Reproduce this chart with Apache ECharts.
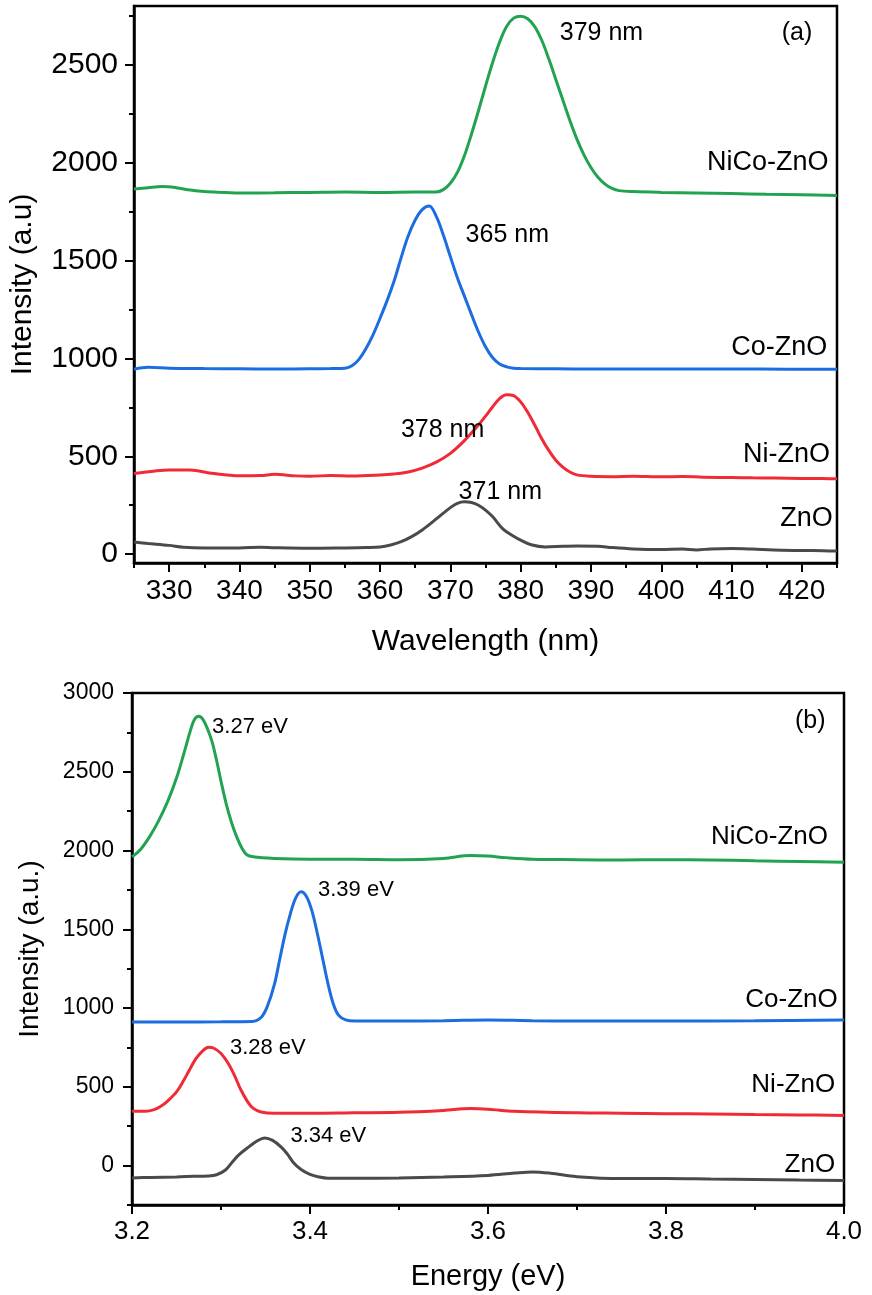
<!DOCTYPE html>
<html>
<head>
<meta charset="utf-8">
<script src="https://cdn.jsdelivr.net/npm/echarts@6/dist/echarts.min.js"></script>
<style>
html,body{margin:0;padding:0;background:#fff;}
#main{width:872px;height:1295px;}
</style>
</head>
<body>
<div id="main"></div>
<script>
// ---------- Panel (a): wavelength (nm) vs intensity ----------
const wlMajorTicks = [330, 340, 350, 360, 370, 380, 390, 400, 410, 420];
const wlMinorTicks = [325, 335, 345, 355, 365, 375, 385, 395, 405, 415, 425];
const intAMajorTicks = [0, 500, 1000, 1500, 2000, 2500];
const intAMinorTicks = [250, 750, 1250, 1750, 2250, 2750];

const znoA = [[325,62],[327,55],[330,45],[332,36],[335,32],[340,32],[343,36],[345,33],[350,30],[355,32],[358,34],[360,37],[361.5,47],[363,64],[364.5,90],[366,124],[368,180],[370,238],[371,260],[372,268],[373,264],[374,250],[375,225],[376,192],[377.5,128],[379,92],[380,72],[381.5,48],[383.5,37],[386,40],[388,42],[391,41],[393,34],[396,27],[400,24],[403,26],[405,22],[407,27],[410,29],[413,26],[416,21],[420,19],[423,18],[425,16]];
const niA = [[325,412],[328,425],[330,430],[333,430],[336,414],[340,401],[343,402],[345,408],[348,400],[350,398],[353,402],[356,400],[360,405],[362,410],[364,420],[366,440],[368,470],[370,515],[372,580],[374,660],[375,705],[376,752],[377,795],[378,815],[379,810],[380,778],[381,725],[382,660],[383,590],[384,530],[385,480],[386,445],[387,420],[388,405],[390,398],[393,396],[396,398],[400,395],[403,397],[406,393],[410,392],[413,390],[416,389],[420,387],[423,386],[425,385]];
const coA = [[325,945],[327,955],[330,950],[335,948],[340,947],[345,946],[350,947],[353,948],[355,950],[356,962],[357,995],[358,1050],[359,1120],[360,1205],[361,1295],[362,1395],[363,1515],[364,1625],[365,1707],[366,1760],[367,1778],[368,1725],[369,1630],[370,1520],[371,1412],[372,1318],[373,1225],[374,1135],[375,1060],[376,1005],[377,972],[378,957],[379,950],[380,948],[385,947],[390,946],[400,946],[410,946],[418,945],[425,945]];
const nicoA = [[325,1865],[327,1872],[329,1878],[331,1872],[333,1860],[335,1852],[338,1848],[340,1845],[345,1846],[350,1848],[355,1850],[360,1848],[365,1850],[368,1850],[369,1862],[370,1895],[371,1950],[372,2035],[373,2145],[374,2265],[375,2390],[376,2510],[377,2615],[378,2695],[379,2738],[380,2748],[381,2735],[382,2695],[383,2625],[384,2530],[385,2425],[386,2320],[387,2215],[388,2120],[389,2040],[390,1975],[391,1925],[392,1890],[393,1868],[394,1857],[396,1852],[400,1848],[405,1845],[410,1842],[415,1838],[420,1836],[425,1832]];

const annAText = ['(a)', '379 nm', '365 nm', '378 nm', '371 nm'];
const annAX    = [419.3, 391.5, 378.1, 368.9, 377.1];
const annAY    = [2662, 2662, 1630, 635, 318];
const nameAText = ['NiCo-ZnO', 'Co-ZnO', 'Ni-ZnO', 'ZnO'];
const nameAX    = [423.8, 423.6, 424.0, 424.4];
const nameAY    = [1998, 1053, 507, 180];

// ---------- Panel (b): energy (eV) vs intensity ----------
const eMajorTicks = [3.2, 3.4, 3.6, 3.8, 4.0];
const eMinorTicks = [3.3, 3.5, 3.7, 3.9];
const intBMajorTicks = [0, 500, 1000, 1500, 2000, 2500, 3000];
const intBMinorTicks = [-250, 250, 750, 1250, 1750, 2250, 2750];

const znoB = [[3.2,-78],[3.22,-75],[3.25,-72],[3.27,-68],[3.285,-66],[3.295,-58],[3.305,-28],[3.313,25],[3.32,68],[3.332,122],[3.34,155],[3.349,176],[3.358,160],[3.368,116],[3.375,70],[3.381,22],[3.39,-25],[3.4,-56],[3.41,-72],[3.42,-80],[3.45,-80],[3.5,-78],[3.55,-72],[3.6,-62],[3.63,-47],[3.65,-40],[3.67,-48],[3.7,-70],[3.75,-82],[3.8,-82],[3.85,-85],[3.9,-88],[3.95,-92],[4.0,-95]];
const niB = [[3.2,345],[3.215,345],[3.225,355],[3.232,375],[3.24,410],[3.25,468],[3.258,540],[3.265,612],[3.272,680],[3.28,732],[3.286,752],[3.292,745],[3.3,712],[3.308,650],[3.315,575],[3.322,485],[3.33,405],[3.336,365],[3.345,340],[3.36,332],[3.4,332],[3.45,335],[3.5,338],[3.55,350],[3.58,362],[3.6,358],[3.63,345],[3.7,335],[3.75,333],[3.8,330],[3.85,328],[3.9,325],[3.95,322],[4.0,318]];
const coB = [[3.2,912],[3.25,912],[3.3,913],[3.335,915],[3.345,940],[3.352,1010],[3.36,1150],[3.366,1310],[3.372,1470],[3.378,1600],[3.384,1700],[3.39,1738],[3.396,1708],[3.402,1620],[3.408,1480],[3.414,1320],[3.42,1160],[3.426,1030],[3.432,955],[3.44,925],[3.45,918],[3.5,918],[3.55,920],[3.6,925],[3.65,920],[3.7,918],[3.8,918],[3.9,920],[4.0,925]];
const nicoB = [[3.2,1960],[3.21,2010],[3.22,2090],[3.23,2190],[3.24,2310],[3.25,2460],[3.26,2650],[3.265,2750],[3.27,2830],[3.275,2852],[3.28,2830],[3.285,2770],[3.29,2690],[3.295,2573],[3.3,2440],[3.306,2293],[3.312,2175],[3.318,2082],[3.324,2010],[3.329,1973],[3.336,1960],[3.36,1950],[3.4,1945],[3.45,1945],[3.5,1942],[3.55,1950],[3.58,1968],[3.6,1965],[3.62,1955],[3.65,1945],[3.7,1942],[3.75,1940],[3.8,1942],[3.85,1940],[3.9,1935],[3.95,1930],[4.0,1925]];

const annBText = ['(b)', '3.27 eV', '3.39 eV', '3.28 eV', '3.34 eV'];
const annBX    = [3.962, 3.290, 3.409, 3.310, 3.378];
const annBY    = [2823, 2785, 1750, 747, 188];
const nameBText = ['NiCo-ZnO', 'Co-ZnO', 'Ni-ZnO', 'ZnO'];
const nameBX    = [3.982, 3.993, 3.990, 3.990];
const nameBY    = [2090, 1052, 511, 4];

// ---------- styling ----------
const FONT = "'Liberation Sans', Arial, Helvetica, sans-serif";
const GREEN = '#22a352', BLUE = '#1c6ee0', RED = '#f02a36', GRAY = '#4a4a4a';
const LW = 3;

function majorAxis(gridIndex, min, max, ticks, fontSize, margin, fmt, extra) {
  return Object.assign({
    type: 'value', gridIndex, min, max,
    axisLine: { show: true, onZero: false, lineStyle: { color: '#000', width: 2.5 } },
    axisTick: { show: true, inside: false, customValues: ticks, length: 9, lineStyle: { color: '#000', width: 2 } },
    axisLabel: { show: true, customValues: ticks, fontSize, margin, color: '#000', fontFamily: FONT, formatter: fmt },
    splitLine: { show: false }
  }, extra || {});
}
function minorAxis(gridIndex, min, max, ticks, pos) {
  return {
    type: 'value', gridIndex, min, max, position: pos,
    axisLine: { show: false, onZero: false },
    axisTick: { show: true, inside: false, customValues: ticks, length: 5, lineStyle: { color: '#000', width: 2 } },
    axisLabel: { show: false },
    splitLine: { show: false }
  };
}
function lineSeries(name, data, color, xi, yi) {
  return {
    type: 'line', name, data, xAxisIndex: xi, yAxisIndex: yi,
    showSymbol: false, symbol: 'none', smooth: 0.35,
    lineStyle: { color, width: LW }, itemStyle: { color }, z: 3, silent: true
  };
}
function textSeries(texts, xs, ys, align, fontSize, xi, yi) {
  return {
    type: 'scatter', xAxisIndex: xi, yAxisIndex: yi, symbolSize: 1, silent: true, z: 5,
    itemStyle: { color: 'rgba(255,255,255,0)' },
    data: texts.map((t, i) => ({ value: [xs[i], ys[i]], name: t })),
    label: {
      show: true, position: 'inside', align, verticalAlign: 'middle',
      formatter: p => p.name, fontSize, color: '#000', fontFamily: FONT,
      textBorderWidth: 0, textBorderColor: 'transparent', opacity: 1
    },
    labelLayout: { hideOverlap: false }
  };
}

const option = {
  animation: false,
  backgroundColor: '#fff',
  textStyle: { fontFamily: FONT },
  grid: [
    { left: 129, top: 6, width: 708, height: 557, show: true, borderColor: '#000', borderWidth: 2.5, backgroundColor: 'transparent' },
    { left: 132, top: 693, width: 712, height: 512, show: true, borderColor: '#000', borderWidth: 2.5, backgroundColor: 'transparent' }
  ],
  xAxis: [
    majorAxis(0, 325, 425, wlMajorTicks, 28, 14, v => String(v), {
      name: 'Wavelength (nm)', nameLocation: 'middle', nameGap: 64,
      nameTextStyle: { fontSize: 30, color: '#000', fontFamily: FONT }, position: 'bottom'
    }),
    minorAxis(0, 325, 425, wlMinorTicks, 'bottom'),
    majorAxis(1, 3.2, 4.0, eMajorTicks, 26, 14, v => Number(v).toFixed(1), {
      name: 'Energy (eV)', nameLocation: 'middle', nameGap: 57,
      nameTextStyle: { fontSize: 29, color: '#000', fontFamily: FONT }, position: 'bottom'
    }),
    minorAxis(1, 3.2, 4.0, eMinorTicks, 'bottom')
  ],
  yAxis: [
    majorAxis(0, -45, 2800, intAMajorTicks, 30, 16, v => String(v), {
      name: 'Intensity (a.u)', nameLocation: 'middle', nameGap: 96, nameRotate: 90,
      nameTextStyle: { fontSize: 30, color: '#000', fontFamily: FONT }, position: 'left'
    }),
    minorAxis(0, -45, 2800, intAMinorTicks, 'left'),
    majorAxis(1, -250, 3000, intBMajorTicks, 23, 18, v => String(v), {
      name: 'Intensity (a.u.)', nameLocation: 'middle', nameGap: 88, nameRotate: 90,
      nameTextStyle: { fontSize: 28, color: '#000', fontFamily: FONT }, position: 'left'
    }),
    minorAxis(1, -250, 3000, intBMinorTicks, 'left')
  ],
  series: [
    lineSeries('ZnO', znoA, GRAY, 0, 0),
    lineSeries('Ni-ZnO', niA, RED, 0, 0),
    lineSeries('Co-ZnO', coA, BLUE, 0, 0),
    lineSeries('NiCo-ZnO', nicoA, GREEN, 0, 0),
    textSeries(annAText, annAX, annAY, 'center', 25, 0, 0),
    textSeries(nameAText, nameAX, nameAY, 'right', 27, 0, 0),
    lineSeries('ZnO', znoB, GRAY, 2, 2),
    lineSeries('Ni-ZnO', niB, RED, 2, 2),
    lineSeries('Co-ZnO', coB, BLUE, 2, 2),
    lineSeries('NiCo-ZnO', nicoB, GREEN, 2, 2),
    textSeries(annBText.slice(0, 1), annBX.slice(0, 1), annBY.slice(0, 1), 'center', 25, 2, 2),
    textSeries(annBText.slice(1), annBX.slice(1), annBY.slice(1), 'left', 22, 2, 2),
    textSeries(nameBText, nameBX, nameBY, 'right', 26, 2, 2)
  ]
};

const chart = echarts.init(document.getElementById('main'), null, { renderer: 'canvas' });
chart.setOption(option);
</script>
</body>
</html>
